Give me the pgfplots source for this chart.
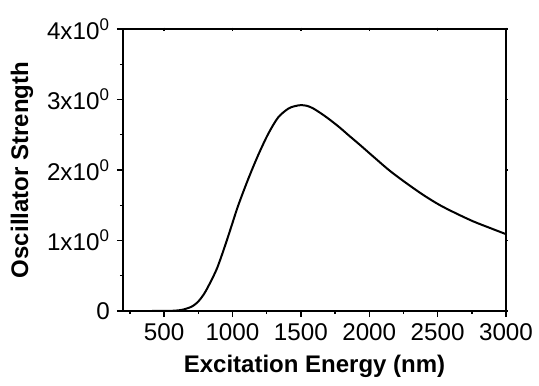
\documentclass[border=0pt]{standalone}
\usepackage{fontspec}
\setmainfont{Liberation Sans}
\usepackage{pgfplots}
\usetikzlibrary{calc}
\pgfplotsset{compat=1.18}
\pgfplotstableread{
x y
200 0
400 0
500 0.001
580 0.005
639 0.02
700 0.06
737 0.11
770 0.18
810 0.30
884 0.59
945 0.92
994 1.21
1042 1.495
1115 1.87
1188 2.21
1261 2.51
1334 2.745
1408 2.87
1455 2.905
1500 2.92
1545 2.91
1589 2.875
1650 2.80
1711 2.715
1786 2.60
1845 2.50
1930 2.36
2030 2.19
2150 1.99
2274 1.81
2400 1.64
2518 1.50
2640 1.38
2762 1.27
2880 1.18
3000 1.09
}\datatable
\begin{document}
\begin{tikzpicture}
\pgfplotsset{
  common/.style={scale only axis, width=191.5pt, height=141pt,
    xmin=200, xmax=3000, ymin=0, ymax=4,
    xtick={500,1000,...,3000}, minor xtick={250,750,...,2750},
    ytick={0,1,2,3,4}, minor ytick={0.5,1.5,2.5,3.5},
    axis line style={line width=0.9pt},
    every tick/.style={line width=0.7pt, black}}
}
\begin{axis}[common, name=ax,
  yticklabels={0,1x10\textsuperscript{0},2x10\textsuperscript{0},3x10\textsuperscript{0},4x10\textsuperscript{0}},
  xtick pos=bottom, ytick pos=left, tick align=outside,
  major tick length=3pt, minor tick length=1.5pt,
  /pgf/number format/assume math mode=true,
  scaled x ticks=false, xticklabel style={/pgf/number format/1000 sep={}},
  tick label style={font=\fontsize{12.1}{14}\selectfont},
  label style={font=\fontsize{12}{14}\selectfont\bfseries},
  xlabel={Excitation Energy (nm)}, ylabel={Oscillator Strength},
]
\addplot[black, line width=1pt, smooth] table[x=x,y=y]{\datatable};
\end{axis}
\begin{axis}[common, xtick pos=right, ytick pos=right, tick align=center,
  major tick length=1.5pt, minor tick length=1pt,
  xticklabels={}, yticklabels={}]
\end{axis}
\pgfresetboundingbox
\path[use as bounding box] ($(ax.south west)+(-61.5pt,-37pt)$) rectangle ($(ax.north east)+(16.5pt,14.5pt)$);
\end{tikzpicture}
\end{document}
